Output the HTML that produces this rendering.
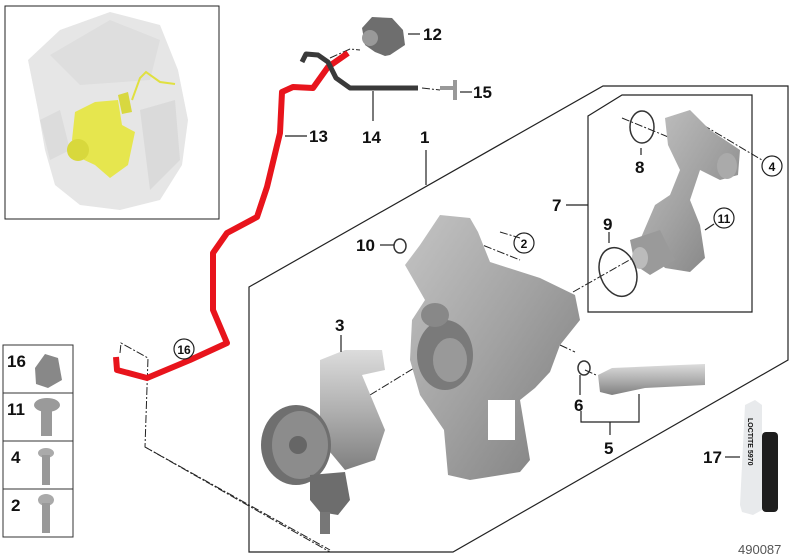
<!DOCTYPE html>
<html><head><meta charset="utf-8"><style>
html,body{margin:0;padding:0;background:#fff;}
svg{display:block;}
text{font-family:"Liberation Sans",sans-serif;font-weight:bold;fill:#111;}
</style></head><body>
<svg width="800" height="560" viewBox="0 0 800 560" xmlns="http://www.w3.org/2000/svg">
<defs>
<linearGradient id="g1" x1="0" y1="0" x2="1" y2="1"><stop offset="0" stop-color="#c4c4c4"/><stop offset="0.5" stop-color="#a2a2a2"/><stop offset="1" stop-color="#7c7c7c"/></linearGradient>
<linearGradient id="g2" x1="0" y1="0" x2="0" y2="1"><stop offset="0" stop-color="#dcdcdc"/><stop offset="0.5" stop-color="#b0b0b0"/><stop offset="1" stop-color="#808080"/></linearGradient>
</defs>
<!-- inset -->
<rect x="5" y="6" width="214" height="213" fill="#fff" stroke="#222" stroke-width="1"/>
<path d="M28 60 L60 30 L110 12 L160 25 L178 70 L188 120 L182 165 L160 200 L120 210 L80 205 L55 185 L45 150 L38 110 Z" fill="#e6e6e6"/>
<path d="M50 55 L110 20 L160 40 L150 80 L80 85 Z" fill="#dedede"/>
<path d="M40 120 L60 110 L70 150 L50 160 Z" fill="#dcdcdc"/>
<path d="M140 110 L175 100 L180 160 L150 190 Z" fill="#dadada"/>
<path d="M75 112 L95 102 L118 100 L122 125 L135 132 L128 165 L110 178 L95 165 L80 158 L72 140 Z" fill="#e6e64e"/>
<circle cx="78" cy="150" r="11" fill="#d8d83c"/>
<path d="M118 95 L128 92 L132 112 L122 114 Z" fill="#d8d840"/>
<path d="M132 100 L140 78 L146 72 L160 82 L175 84" stroke="#e0e040" stroke-width="2" fill="none"/>
<!-- outer polygon -->
<polygon points="249,287 603,86 788,86 788,360 453,552 249,552" fill="none" stroke="#222" stroke-width="1.2"/>
<!-- inner box -->
<polygon points="588,116 622,95 752,95 752,312 588,312" fill="none" stroke="#222" stroke-width="1.2"/>
<!-- small parts table -->
<rect x="3" y="345" width="70" height="192" fill="#fff" stroke="#333"/>
<line x1="3" y1="393" x2="73" y2="393" stroke="#333"/>
<line x1="3" y1="441" x2="73" y2="441" stroke="#333"/>
<line x1="3" y1="489" x2="73" y2="489" stroke="#333"/>
<text x="7" y="367" font-size="17">16</text>
<text x="7" y="415" font-size="17">11</text>
<text x="11" y="463" font-size="17">4</text>
<text x="11" y="511" font-size="17">2</text>
<path d="M35 368 L45 354 L58 358 L62 380 L48 388 L36 384 Z" fill="#888"/>
<ellipse cx="47" cy="405" rx="13" ry="7" fill="#9a9a9a"/>
<rect x="41" y="410" width="11" height="26" fill="#999"/>
<ellipse cx="46" cy="453" rx="8" ry="5" fill="#aaa"/><rect x="42" y="455" width="8" height="30" fill="#999"/>
<ellipse cx="46" cy="500" rx="8" ry="6" fill="#aaa"/><rect x="42" y="503" width="8" height="30" fill="#999"/>
<!-- dash-dot lines -->
<g stroke="#222" stroke-width="1" fill="none" stroke-dasharray="8,2,2,2">
<path d="M120 353 L121 343 L148 358 L145 447 L330 550"/>
<path d="M145 447 L330 552"/>
<path d="M330 58 L350 49 L360 50"/>
<path d="M422 88 L440 90"/>
<path d="M445 230 L520 260"/>
<path d="M500 232 L520 238"/>
<path d="M370 395 L460 340"/>
<path d="M573 292 L640 254"/>
<path d="M622 118 L700 150"/>
<path d="M703 125 L762 160"/>
<path d="M560 345 L575 352"/>
<path d="M585 370 L596 375"/>
</g>
<!-- red hose -->
<path d="M348 53 L328 67 L313 88 L293 87 L282 92 L280 133 L267 187 L257 217 L227 233 L213 253 L213 310 L227 343 L190 360 L147 378 L117 370 L116 357" fill="none" stroke="#e8141c" stroke-width="6" stroke-linejoin="round"/>
<!-- black hose 14 -->
<path d="M302 62 L306 54 L318 55 L328 62 L336 78 L350 88 L418 88" fill="none" stroke="#3a3a3a" stroke-width="5" stroke-linejoin="round"/>
<!-- part 12 -->
<path d="M362 28 L372 17 L392 18 L403 30 L405 45 L390 55 L385 56 L375 52 L365 45 Z" fill="#6e6e6e"/>
<circle cx="370" cy="38" r="8" fill="#999"/>
<!-- T 15 -->
<path d="M440 88 L455 88 M455 80 L455 100" stroke="#999" stroke-width="4"/>
<!-- pump housing -->
<path d="M405 265 L420 245 L440 215 L470 218 L478 232 L490 262 L540 278 L575 295 L580 320 L560 345 L550 372 L535 388 L520 400 L530 460 L520 472 L470 480 L448 475 L444 430 L420 395 L410 360 L412 320 L425 300 Z" fill="url(#g1)"/>
<ellipse cx="445" cy="355" rx="28" ry="35" fill="#7a7a7a"/>
<ellipse cx="450" cy="360" rx="17" ry="22" fill="#999"/>
<ellipse cx="435" cy="315" rx="14" ry="12" fill="#888"/>
<path d="M488 400 L515 400 L515 440 L488 440 Z" fill="#fff"/>
<!-- pump 3 -->
<path d="M320 360 L345 350 L382 350 L385 370 L362 375 L385 430 L375 460 L345 470 L320 440 Z" fill="url(#g2)"/>
<ellipse cx="296" cy="445" rx="35" ry="40" fill="#6f6f6f"/>
<ellipse cx="300" cy="445" rx="28" ry="34" fill="#8c8c8c"/>
<circle cx="298" cy="445" r="9" fill="#666"/>
<path d="M310 475 L345 472 L350 500 L338 515 L320 512 L310 500 Z" fill="#6d6d6d"/>
<rect x="320" y="512" width="10" height="22" fill="#777"/>
<!-- thermostat housing 7 -->
<path d="M665 118 L690 110 L710 130 L740 150 L738 175 L720 180 L700 170 L690 200 L700 225 L705 258 L690 272 L665 268 L650 250 L640 240 L655 205 L670 195 L680 170 L668 145 Z" fill="url(#g1)"/>
<ellipse cx="727" cy="166" rx="10" ry="13" fill="#aaa"/>
<path d="M630 240 L660 230 L675 260 L650 275 L635 265 Z" fill="#9a9a9a"/>
<ellipse cx="640" cy="258" rx="8" ry="11" fill="#bbb"/>
<!-- rings -->
<ellipse cx="642" cy="127" rx="12" ry="16" fill="none" stroke="#333" stroke-width="1.5"/>
<ellipse cx="618" cy="272" rx="18" ry="25" transform="rotate(-20 618 272)" fill="none" stroke="#333" stroke-width="1.5"/>
<ellipse cx="400" cy="246" rx="6" ry="7" fill="none" stroke="#333" stroke-width="1.5"/>
<ellipse cx="584" cy="368" rx="6" ry="7" fill="none" stroke="#333" stroke-width="1.5"/>
<!-- pipe 5 -->
<path d="M598 375 L612 368 L680 365 L705 364 L705 385 L645 388 L612 395 L600 392 Z" fill="url(#g2)"/>
<!-- tube 17 -->
<path d="M745 405 L755 400 L762 405 L762 510 L753 515 L742 512 L740 505 Z" fill="#e8eaec"/>
<rect x="762" y="432" width="16" height="80" rx="4" fill="#1e1e1e"/>
<text x="748" y="418" font-size="7" transform="rotate(90 748 418)">LOCTITE 5970</text>
<!-- leader lines -->
<g stroke="#222" stroke-width="1.2" fill="none">
<line x1="408" y1="34" x2="420" y2="34"/>
<line x1="460" y1="92" x2="472" y2="92"/>
<line x1="285" y1="136" x2="307" y2="136"/>
<line x1="373" y1="91" x2="373" y2="121"/>
<line x1="426" y1="150" x2="426" y2="185"/>
<line x1="641" y1="148" x2="641" y2="155"/>
<line x1="566" y1="205" x2="588" y2="205"/>
<line x1="609" y1="232" x2="609" y2="243"/>
<line x1="705" y1="230" x2="714" y2="224"/>
<line x1="380" y1="245" x2="394" y2="245"/>
<line x1="341" y1="335" x2="341" y2="352"/>
<line x1="580" y1="375" x2="580" y2="395"/>
<polyline points="581,411 581,422 639,422 639,394"/>
<line x1="610" y1="422" x2="610" y2="435"/>
<line x1="725" y1="457" x2="740" y2="457"/>
</g>
<!-- labels -->
<g font-size="17">
<text x="423" y="40">12</text>
<text x="473" y="98">15</text>
<text x="309" y="142">13</text>
<text x="362" y="143">14</text>
<text x="420" y="143">1</text>
<text x="635" y="173">8</text>
<text x="552" y="211">7</text>
<text x="603" y="230">9</text>
<text x="356" y="251">10</text>
<text x="335" y="331">3</text>
<text x="574" y="411">6</text>
<text x="604" y="454">5</text>
<text x="703" y="463">17</text>
</g>
<g fill="none" stroke="#222" stroke-width="1.2">
<circle cx="772" cy="166" r="10"/>
<circle cx="724" cy="218" r="10"/>
<circle cx="524" cy="243" r="10"/>
<circle cx="184" cy="349" r="10"/>
</g>
<g font-size="12" text-anchor="middle">
<text x="772" y="171">4</text>
<text x="724" y="223">11</text>
<text x="524" y="248">2</text>
<text x="184" y="354">16</text>
</g>
<text x="738" y="554" font-size="13" style="font-weight:normal;fill:#555">490087</text>
</svg>
</body></html>
